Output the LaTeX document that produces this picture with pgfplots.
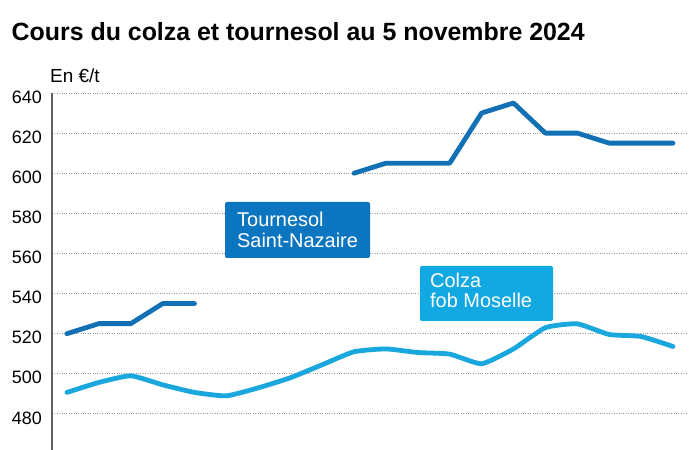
\documentclass[border=0pt]{standalone}
\usepackage{pgfplots}
\pgfplotsset{compat=1.18}
\usepackage{fontspec}
\setmainfont{Liberation Sans}
\definecolor{tourn}{HTML}{1271B4}
\definecolor{colza}{HTML}{1AA7DD}
\definecolor{boxt}{HTML}{0B76BF}
\definecolor{boxc}{HTML}{12A8E2}
\definecolor{gridc}{HTML}{9A9A9A}
\begin{document}
\begin{tikzpicture}[x=1bp,y=1bp]
\useasboundingbox (0,0) rectangle (700,450);
\node[anchor=base west, inner sep=0, font=\fontsize{25}{30}\selectfont\bfseries] at (11.5,409) {Cours du colza et tournesol au 5 novembre 2024};
\node[anchor=base west, inner sep=0, font=\fontsize{19}{22}\selectfont] at (50,367) {En €/t};
\begin{axis}[
  at={(52bp,0bp)}, anchor=south west,
  scale only axis, width=635bp, height=357bp,
  xmin=-0.47, xmax=19.44, ymin=462, ymax=640,
  axis x line=none, axis y line*=left,
  y axis line style={draw=black!62, line width=1.2bp},
  ytick={480,500,...,640},
  major tick length=0pt,
  ymajorgrids,
  grid style={dotted, draw=gridc, line width=0.9bp},
  /pgf/number format/assume math mode=true,
  yticklabel style={font=\fontsize{18}{20}\selectfont, anchor=east, inner sep=0pt, xshift=-10bp, yshift=-4bp},
  clip=false,
  unbounded coords=jump,
]
\addplot[colza, line width=4.8bp, line join=round, line cap=round, smooth, tension=0.3] coordinates {
(0,490.7) (1,495.7) (2,499) (3,494.5) (4,490.7) (5,489) (6,493) (7,498) (8,504.5) (9,511)
(10,512.4) (11,510.6) (12,509.8) (13,505) (14,512.4) (15,523) (16,524.9) (17,519.6) (18,518.6) (19,513.6)
};
\addplot[tourn, line width=4.8bp, line join=round, line cap=round] coordinates {
(0,520) (1,525) (2,525) (3,535) (4,535) (5,nan) (6,nan) (7,nan) (8,nan)
(9,600) (10,605) (11,605) (12,605) (13,630) (14,635) (15,620) (16,620) (17,615) (18,615) (19,615)
};
\end{axis}
\fill[boxt, rounded corners=2bp] (225,192) rectangle (370,248);
\node[anchor=base west, inner sep=0, text=white, font=\fontsize{20}{22}\selectfont] at (237,223) {Tournesol};
\node[anchor=base west, inner sep=0, text=white, font=\fontsize{20}{22}\selectfont] at (237,202) {Saint-Nazaire};
\fill[boxc, rounded corners=2bp] (420,129) rectangle (553,184);
\node[anchor=base west, inner sep=0, text=white, font=\fontsize{20}{22}\selectfont] at (430,162) {Colza};
\node[anchor=base west, inner sep=0, text=white, font=\fontsize{20}{22}\selectfont] at (430,142) {fob Moselle};
\end{tikzpicture}
\end{document}
